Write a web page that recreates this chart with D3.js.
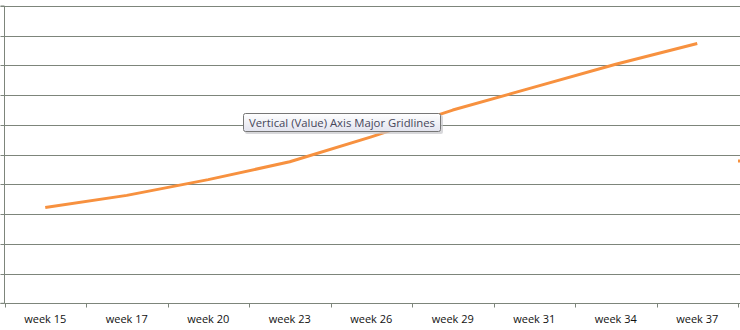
<!DOCTYPE html>
<html><head><meta charset="utf-8">
<script src="https://cdn.jsdelivr.net/npm/d3@7"></script>
<style>html,body{margin:0;padding:0;background:#fff;overflow:hidden}</style>
</head><body>
<svg id="c" width="740" height="330"></svg>
<script>
const categories = ["week 15","week 17","week 20","week 23","week 26","week 29","week 31","week 34","week 37"];
const values = [3.22, 3.63, 4.16, 4.76, 5.60, 6.50, 7.27, 8.04, 8.74];
const yTicks = [0,1,2,3,4,5,6,7,8,9,10];
const tooltipText = "Vertical (Value) Axis Major Gridlines";

(function(){
const svg = d3.select("#c");
const pLeft = 4.5, pRight = 738, pTop = 6, pBottom = 303.3;
const x = d3.scaleBand().domain(categories).range([pLeft, pRight]);
const y = d3.scaleLinear().domain([0, 10]).range([pBottom, pTop]);
const gridColor = "#7d857b";

// gridlines
svg.append("g").selectAll("line").data(yTicks.slice(1)).join("line")
  .attr("x1", pLeft).attr("x2", 740)
  .attr("y1", d => Math.round(y(d)) + 0.5).attr("y2", d => Math.round(y(d)) + 0.5)
  .attr("stroke", gridColor).attr("stroke-width", 1);

// y axis
const ya = svg.append("g").attr("transform", `translate(${pLeft},0)`)
  .call(d3.axisLeft(y).tickValues(yTicks).tickSize(4).tickFormat(""));
ya.select(".domain").attr("stroke", gridColor).attr("d", `M-4,${pTop}H0V${pBottom}H-4`);
ya.selectAll(".tick line").attr("stroke", gridColor);
ya.selectAll(".tick").attr("transform", d => `translate(0,${Math.round(y(d)) + 0.5})`);

// x axis
const xa = svg.append("g").attr("transform", `translate(0,${Math.round(pBottom) + 0.5})`)
  .call(d3.axisBottom(x).tickSize(0).tickPadding(12));
xa.select(".domain").attr("stroke", gridColor).attr("d", `M${pLeft},0H740`);
xa.selectAll(".tick text").attr("font-family", "'Open Sans', sans-serif").attr("font-size", 11)
  .attr("font-weight", 400).attr("fill", "#111");
const bounds = x.domain().map(d => x(d)).concat([pRight]);
xa.selectAll(".bnd").data(bounds).join("line").attr("class", "bnd")
  .attr("x1", d => Math.round(d) + 0.5).attr("x2", d => Math.round(d) + 0.5)
  .attr("y1", 0).attr("y2", 4).attr("stroke", gridColor);

// line series
const line = d3.line().x((d, i) => x(categories[i]) + x.bandwidth() / 2).y(d => y(d));
svg.append("path").datum(values).attr("d", line)
  .attr("fill", "none").attr("stroke", "#f7913f").attr("stroke-width", 3).attr("stroke-linejoin", "round");

// cut-off legend marker
svg.append("rect").attr("x", 738).attr("y", 159.5).attr("width", 2).attr("height", 3).attr("fill", "#f7913f");

// tooltip
const defs = svg.append("defs");
const g = defs.append("linearGradient").attr("id", "tg").attr("x1", 0).attr("y1", 0).attr("x2", 0).attr("y2", 1);
g.append("stop").attr("offset", "0%").attr("stop-color", "#ffffff");
g.append("stop").attr("offset", "100%").attr("stop-color", "#e2e3ee");
const tx = 243, ty = 113, tw = 198, th = 19;
svg.append("rect").attr("x", tx + 2).attr("y", ty + 2).attr("width", tw).attr("height", th).attr("rx", 2)
  .attr("fill", "#c8c8cc").attr("opacity", 0.7);
svg.append("rect").attr("x", tx + 0.5).attr("y", ty + 0.5).attr("width", tw - 1).attr("height", th - 1).attr("rx", 2)
  .attr("fill", "url(#tg)").attr("stroke", "#767676");
svg.append("text").attr("x", tx + 6).attr("y", ty + 13.5)
  .attr("font-family", "'Open Sans', 'Noto Sans', sans-serif").attr("font-size", 11.5).attr("fill", "#46465a")
  .attr("textLength", 186).attr("lengthAdjust", "spacingAndGlyphs")
  .text(tooltipText);
})();
</script>
</body></html>
